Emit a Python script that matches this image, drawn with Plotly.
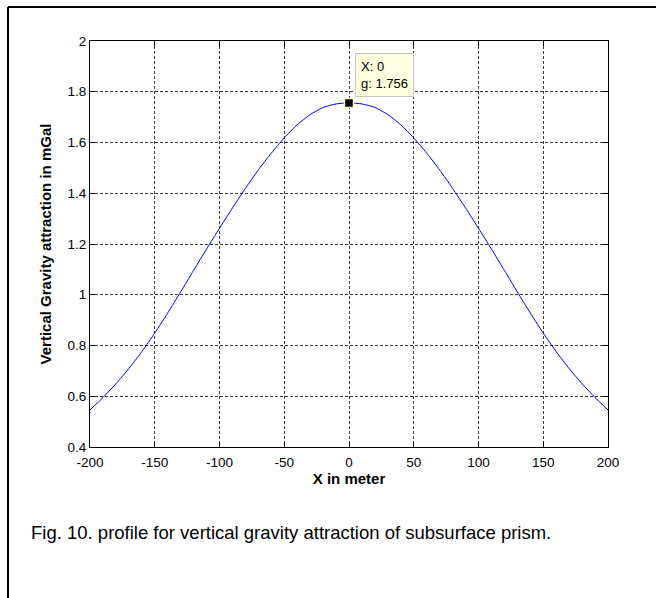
import plotly.graph_objects as go

# profile (x in m, g in mGal)
x_m = [-200, -190, -180, -170, -160, -150, -140, -130, -120, -110, -100,
       -90, -80, -70, -60, -50, -40, -30, -20, -10, 0,
       10, 20, 30, 40, 50, 60, 70, 80, 90, 100,
       110, 120, 130, 140, 150, 160, 170, 180, 190, 200]
g_mgal = [0.546, 0.595, 0.649, 0.709, 0.776, 0.849, 0.928, 1.011, 1.096, 1.180, 1.262,
          1.342, 1.419, 1.492, 1.558, 1.618, 1.670, 1.710, 1.738, 1.752, 1.756,
          1.752, 1.738, 1.710, 1.670, 1.618, 1.558, 1.492, 1.419, 1.342, 1.262,
          1.180, 1.096, 1.011, 0.928, 0.849, 0.776, 0.709, 0.649, 0.595, 0.546]

tip_x = [0]
tip_g = [1.756]

x_ticks = [-200, -150, -100, -50, 0, 50, 100, 150, 200]
x_tick_text = ["-200", "-150", "-100", "-50", "0", "50", "100", "150", "200"]
y_ticks = [0.4, 0.6, 0.8, 1.0, 1.2, 1.4, 1.6, 1.8, 2.0]
y_tick_text = ["0.4", "0.6", "0.8", "1", "1.2", "1.4", "1.6", "1.8", "2"]

FONT = "Liberation Sans, Arial, sans-serif"
W, H = 656, 598
L, R, T, B = 90, 48, 41, 151
pw, ph = W - L - R, H - T - B


def px(x):
    return (x - L) / pw


def py(y):
    return (H - B - y) / ph


fig = go.Figure()
fig.add_trace(go.Scatter(
    x=x_m, y=g_mgal, mode="lines", line=dict(color="#0000ff", width=1, shape="spline", smoothing=0.6),
    hoverinfo="skip",
))
fig.add_trace(go.Scatter(
    x=tip_x, y=tip_g, mode="markers",
    marker=dict(symbol="square", size=9, color="black", line=dict(color="#fffbd0", width=1.5)),
    hoverinfo="skip",
))

fig.add_annotation(
    x=tip_x[0], y=tip_g[0], xanchor="left", yanchor="bottom", xshift=6, yshift=6,
    text=f"X: {tip_x[0]}<br>g: {tip_g[0]}", showarrow=False, align="left",
    bgcolor="#ffffe1", bordercolor="#c8c8c0", borderwidth=1, borderpad=5,
    font=dict(family=FONT, size=13, color="black"),
)
fig.add_annotation(
    x=px(29), y=py(532), xref="paper", yref="paper", xanchor="left", yanchor="middle",
    text="Fig. 10. profile for vertical gravity attraction of subsurface prism.",
    showarrow=False, font=dict(family=FONT, size=18.5, color="black"),
)

# outer frame (top and left edges)
fig.add_shape(type="line", xref="paper", yref="paper", x0=px(8), x1=px(W + 5), y0=py(7), y1=py(7),
              line=dict(color="black", width=2))
fig.add_shape(type="line", xref="paper", yref="paper", x0=px(8), x1=px(8), y0=py(7), y1=py(H + 5),
              line=dict(color="black", width=2))

axis_common = dict(
    showline=True, linecolor="black", linewidth=1, mirror="ticks",
    ticks="inside", ticklen=5, tickcolor="black",
    showgrid=True, gridcolor="#3c3c3c", gridwidth=1, griddash="3px,2px",
    zeroline=False, tickfont=dict(family=FONT, size=13.5, color="black"),
)
fig.update_xaxes(
    range=[-200, 200], tickvals=x_ticks, ticktext=x_tick_text, ticklabelstandoff=3,
    title=dict(text="<b>X in meter</b>", font=dict(family=FONT, size=15, color="black"), standoff=3),
    **axis_common,
)
fig.update_yaxes(
    range=[0.4, 2.0], tickvals=y_ticks, ticktext=y_tick_text,
    title=dict(text="<b>Vertical Gravity attraction in mGal</b>", font=dict(family=FONT, size=15, color="black"), standoff=12),
    **axis_common,
)
fig.update_layout(
    width=W, height=H, margin=dict(l=L, r=R, t=T, b=B),
    paper_bgcolor="white", plot_bgcolor="white", showlegend=False,
)
fig.write_html("out.html", config={"displayModeBar": False},
               post_script="document.body.style.margin='0';")
